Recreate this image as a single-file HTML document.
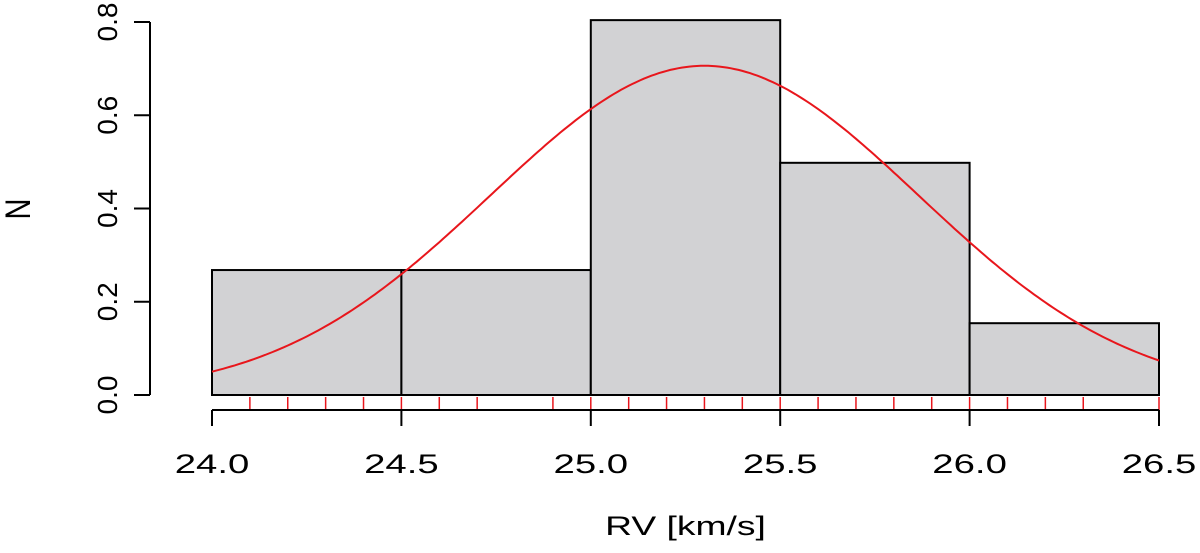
<!DOCTYPE html>
<html><head><meta charset="utf-8"><style>body{margin:0;background:#fff}svg{display:block;font-family:"Liberation Sans",Arial,sans-serif}</style></head>
<body>
<svg id="chart" width="1200" height="553" viewBox="0 0 1200 553"></svg>
<script>
const binEdges=[24.0,24.5,25.0,25.5,26.0,26.5];
const binDensity=[0.268,0.268,0.804,0.498,0.154];
const rugValues=[24.1,24.2,24.3,24.4,24.5,24.6,24.7,24.9,25.0,25.1,25.2,25.3,25.4,25.5,25.6,25.7,25.8,25.9,26.0,26.1,26.2,26.3,26.5];
const xTicks=[24.0,24.5,25.0,25.5,26.0,26.5];
const xTickLabels=["24.0","24.5","25.0","25.5","26.0","26.5"];
const yTicks=[0,0.2,0.4,0.6,0.8];
const yTickLabels=["0.0","0.2","0.4","0.6","0.8"];
const fitMean=[25.3];
const fitSd=[0.565];
const NS="http://www.w3.org/2000/svg";
const svg=document.getElementById('chart');
const X=v=>212+(v-24)*(1159-212)/2.5;
const Y=v=>395-v*(395-22)/0.8;
function mk(t,a,p){const e=document.createElementNS(NS,t);for(const k in a)e.setAttribute(k,a[k]);(p||svg).appendChild(e);return e;}
for(let i=0;i<binDensity.length;i++){
 const r=mk('rect',{x:X(binEdges[i]),y:Y(binDensity[i]),width:X(binEdges[i+1])-X(binEdges[i]),height:Y(0)-Y(binDensity[i]),fill:'#d2d2d4',stroke:'#000','stroke-width':2});
 
 
}
let d='';
for(let k=0;k<=250;k++){const x=24+k*2.5/250;const y=Math.exp(-Math.pow(x-fitMean[0],2)/(2*fitSd[0]*fitSd[0]))/(fitSd[0]*Math.sqrt(2*Math.PI));d+=(k?'L':'M')+X(x).toFixed(1)+','+Y(y).toFixed(1);}
const c=mk('path',{d:d,fill:'none',stroke:'#e8161c','stroke-width':2});


rugValues.forEach((v,i)=>{const l=mk('line',{x1:X(v),x2:X(v),y1:397,y2:410,stroke:'#e8161c','stroke-width':1.5});
 
 });
const xa=mk('line',{x1:X(24),x2:X(26.5),y1:410,y2:410,stroke:'#000','stroke-width':2});


xTicks.forEach((v,i)=>{mk('line',{x1:X(v),x2:X(v),y1:410,y2:426,stroke:'#000','stroke-width':2});
 const t=mk('text',{x:0,y:0,'text-anchor':'middle','font-size':27,fill:'#000',transform:`translate(${X(v)},473) scale(1.42,1)`});t.textContent=xTickLabels[i];
 
 });
const ya=mk('line',{x1:150,x2:150,y1:Y(0),y2:Y(0.8),stroke:'#000','stroke-width':2});


yTicks.forEach((v,i)=>{mk('line',{x1:134,x2:150,y1:Y(v),y2:Y(v),stroke:'#000','stroke-width':2});
 const t=mk('text',{x:0,y:0,'text-anchor':'middle','font-size':28,fill:'#000',transform:`translate(117,${Y(v)}) rotate(-90)`});t.textContent=yTickLabels[i];
 
 });
const xt=mk('text',{x:0,y:0,'text-anchor':'middle','font-size':27,transform:`translate(${X(25.25)},535) scale(1.38,1)`});xt.textContent='RV [km/s]';


const yt=mk('text',{x:0,y:0,'text-anchor':'middle','font-size':29,transform:'translate(30,209) rotate(-90) scale(1,1.2)'});yt.textContent='N';


</script>
</body></html>
